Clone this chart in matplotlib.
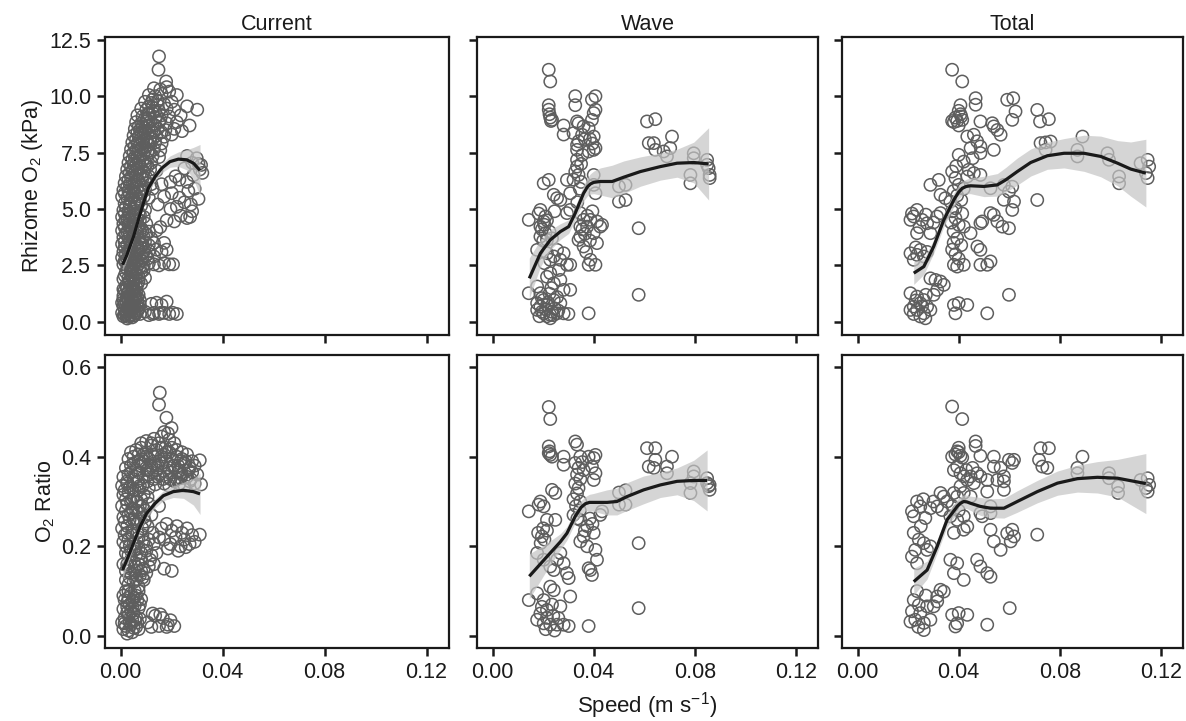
import numpy as np
import matplotlib.pyplot as plt

plt.rcParams['font.family'] = ['Liberation Sans', 'DejaVu Sans']
plt.rcParams['mathtext.fontset'] = 'custom'
plt.rcParams['mathtext.rm'] = 'Liberation Sans'
plt.rcParams['mathtext.it'] = 'Liberation Sans:italic'

# ---- scatter data: (speed m/s, value) ----
cur_o2_pts = [
    (0.001,0.25),(0.002,0.35),(0.003,0.22),(0.004,0.30),(0.005,0.28),(0.006,0.38),
    (0.0015,0.55),(0.0025,0.62),(0.004,0.50),(0.0055,0.65),(0.007,0.58),
    (0.0005,0.85),(0.002,0.95),(0.0035,0.80),(0.005,0.90),(0.0065,0.88),
    (0.001,1.15),(0.0025,1.25),(0.004,1.10),(0.0055,1.20),
    (0.0015,1.40),(0.003,1.35),(0.0045,1.45),(0.002,0.45),(0.0035,0.70),(0.006,1.05),(0.0045,1.30),
    (0.0025,0.15),(0.0045,0.20),(0.0065,0.50),(0.001,0.70),(0.003,1.00),(0.005,0.60),(0.0075,0.95),
    (0.006,1.35),(0.0005,0.40),(0.0035,0.45),(0.0055,0.40),(0.0075,0.35),(0.001,1.45),(0.007,1.20),
    (0.0015,0.30),(0.0035,0.30),(0.0055,0.30),(0.0025,0.45),(0.0045,0.55),(0.0065,0.70),(0.0015,0.80),
    (0.003,0.60),(0.0045,0.95),(0.0025,1.05),(0.0055,1.00),(0.0035,1.20),(0.005,1.40),(0.0065,1.10),
    (0.001,1.00),(0.0075,0.75),
    (0.0095,0.45),(0.011,0.30),(0.012,0.80),(0.013,0.40),(0.014,0.85),(0.015,0.35),(0.016,0.75),
    (0.017,0.40),(0.018,0.90),(0.019,0.35),(0.0205,0.40),(0.022,0.35),(0.0125,0.35),(0.0155,0.40),
    (0.002,1.60),(0.004,1.65),(0.006,1.55),(0.008,1.70),(0.001,1.90),(0.003,1.95),(0.005,1.85),
    (0.007,2.00),(0.002,2.20),(0.004,2.25),(0.006,2.15),(0.009,2.30),(0.0035,2.40),(0.0075,2.45),
    (0.003,1.75),(0.005,1.70),(0.007,1.80),(0.0015,2.05),(0.004,2.10),(0.006,2.35),(0.008,2.20),
    (0.0095,1.95),(0.005,2.45),
    (0.0025,1.50),(0.005,1.50),(0.0065,1.65),(0.0035,1.85),(0.006,1.95),(0.0025,2.35),(0.0045,2.00),(0.0085,2.40),
    (0.001,2.55),(0.003,2.50),(0.005,2.60),(0.007,2.55),(0.009,2.50),(0.011,2.60),(0.013,2.55),
    (0.015,2.50),(0.017,2.60),(0.019,2.55),(0.0205,2.55),
    (0.0005,2.85),(0.0025,2.80),(0.0045,2.90),(0.0065,2.75),(0.0085,2.85),(0.0105,2.80),(0.013,2.90),
    (0.001,3.10),(0.003,3.15),(0.005,3.05),(0.007,3.20),(0.009,3.10),(0.011,3.15),(0.014,3.20),
    (0.016,3.10),(0.018,3.20),
    (0.0005,3.45),(0.0025,3.40),(0.0045,3.50),(0.0065,3.35),(0.0085,3.45),(0.011,3.40),(0.013,3.50),(0.017,3.50),
    (0.001,3.75),(0.003,3.70),(0.005,3.80),(0.007,3.65),(0.009,3.75),(0.012,3.70),
    (0.0005,4.05),(0.0025,4.00),(0.0045,4.10),(0.0065,3.95),(0.0085,4.05),(0.011,4.00),(0.014,4.05),
    (0.001,4.35),(0.003,4.30),(0.005,4.40),(0.007,4.25),(0.010,4.35),
    (0.0005,4.65),(0.0025,4.60),(0.0045,4.70),(0.0065,4.55),(0.009,4.65),
    (0.001,4.95),(0.003,4.90),(0.005,5.00),(0.007,4.85),(0.0095,4.95),
    (0.0015,5.25),(0.0035,5.20),(0.0055,5.30),(0.008,5.15),
    (0.002,2.65),(0.004,2.70),(0.006,2.65),(0.008,2.70),(0.010,2.95),(0.002,3.00),(0.006,3.00),
    (0.008,3.30),(0.004,3.30),(0.0015,3.55),(0.0055,3.60),(0.0095,3.55),(0.002,3.90),(0.006,3.85),
    (0.010,3.90),(0.004,4.20),(0.008,4.15),(0.002,4.50),(0.006,4.45),(0.0035,4.80),(0.0075,4.75),
    (0.002,5.10),(0.006,5.05),(0.004,5.40),(0.0075,5.35),
    (0.0015,2.70),(0.0035,2.95),(0.0055,2.85),(0.0075,3.00),(0.0015,3.30),(0.0055,3.40),(0.0035,3.55),
    (0.0075,3.50),(0.0035,3.90),(0.0075,4.00),(0.0015,4.20),(0.0055,4.25),(0.0035,4.50),(0.0075,4.50),
    (0.0015,4.80),(0.0055,4.80),(0.0035,5.10),(0.0065,5.25),
    (0.0155,4.20),(0.018,4.50),(0.021,4.45),(0.0235,4.70),(0.026,4.60),(0.028,4.90),(0.0195,5.00),
    (0.022,5.10),(0.025,5.30),(0.0275,5.20),(0.0305,5.45),(0.0145,5.20),(0.017,5.55),(0.020,5.70),
    (0.023,5.50),(0.0265,5.80),(0.029,5.90),(0.0125,5.90),(0.016,6.10),(0.0195,6.20),(0.023,6.30),
    (0.026,6.20),(0.0285,6.50),(0.031,6.75),(0.0305,7.00),(0.028,7.05),(0.025,6.80),(0.0215,6.45),
    (0.0272,4.65),(0.0298,7.25),(0.026,7.35),(0.032,6.60),(0.0315,6.95),
    (0.0005,5.55),(0.0025,5.50),(0.0045,5.60),(0.0065,5.45),(0.009,5.55),(0.011,5.50),
    (0.001,5.85),(0.003,5.80),(0.005,5.90),(0.007,5.75),(0.0095,5.85),
    (0.0015,6.15),(0.0035,6.10),(0.0055,6.20),(0.008,6.05),(0.010,6.15),(0.012,6.10),
    (0.002,6.45),(0.004,6.40),(0.006,6.50),(0.0085,6.35),(0.011,6.45),
    (0.0025,6.75),(0.0045,6.70),(0.0065,6.80),(0.009,6.65),(0.0115,6.75),(0.014,6.70),
    (0.003,7.05),(0.005,7.00),(0.007,7.10),(0.0095,6.95),(0.012,7.05),
    (0.0035,7.35),(0.0055,7.30),(0.0075,7.40),(0.010,7.25),(0.0125,7.35),(0.015,7.30),
    (0.004,7.65),(0.006,7.60),(0.008,7.70),(0.0105,7.55),(0.013,7.65),
    (0.0045,7.95),(0.0065,7.90),(0.0085,8.00),(0.011,7.85),(0.0135,7.95),(0.016,7.90),
    (0.005,8.25),(0.007,8.20),(0.009,8.30),(0.0115,8.15),(0.014,8.25),(0.017,8.20),(0.020,8.30),
    (0.0055,8.55),(0.0075,8.50),(0.0095,8.60),(0.012,8.45),(0.0145,8.55),(0.0175,8.50),(0.021,8.55),(0.024,8.45),
    (0.006,8.85),(0.008,8.80),(0.010,8.90),(0.0125,8.75),(0.015,8.85),(0.018,8.80),(0.022,8.85),(0.027,8.70),
    (0.0065,9.15),(0.0085,9.10),(0.011,9.20),(0.0135,9.05),(0.016,9.15),(0.019,9.10),(0.0235,9.15),
    (0.008,9.45),(0.010,9.40),(0.0125,9.50),(0.015,9.35),(0.018,9.45),(0.021,9.40),(0.026,9.55),(0.030,9.40),
    (0.0095,9.75),(0.012,9.70),(0.0145,9.80),(0.017,9.65),(0.020,9.75),
    (0.011,10.05),(0.0135,10.00),(0.016,10.10),(0.019,10.20),(0.022,10.05),
    (0.013,10.35),(0.0155,10.30),(0.018,10.40),
    (0.0015,5.70),(0.006,5.65),(0.0085,5.75),(0.0025,6.00),(0.0065,5.95),(0.003,6.30),(0.007,6.25),
    (0.0095,6.30),(0.0035,6.60),(0.0075,6.55),(0.004,6.90),(0.008,6.85),(0.0105,6.90),(0.0045,7.20),
    (0.0085,7.15),(0.005,7.50),(0.009,7.45),(0.0115,7.50),(0.0055,7.80),(0.0095,7.75),(0.006,8.10),
    (0.010,8.05),(0.0125,8.10),(0.0065,8.40),(0.0105,8.35),(0.0135,8.70),(0.007,8.65),(0.011,8.65),
    (0.0095,9.00),(0.0125,9.25),(0.0145,9.60),(0.011,9.55),(0.0155,8.95),(0.016,8.40),(0.0155,7.60),
    (0.0035,5.65),(0.0055,5.75),(0.0045,6.00),(0.0065,6.30),(0.0055,6.60),(0.0085,6.50),(0.006,6.95),
    (0.0065,7.25),(0.0095,7.10),(0.007,7.55),(0.0095,7.60),(0.0075,7.85),(0.0105,7.95),(0.008,8.35),
    (0.0085,8.65),(0.0095,8.45),(0.0115,8.85),(0.0105,9.20),(0.0135,9.35),(0.0125,9.85),(0.013,8.40),
    (0.0115,8.00),
    (0.0178,10.65),(0.0148,11.17),(0.015,11.76),
]

cur_ratio_pts = [
    (0.001,0.015),(0.002,0.022),(0.003,0.012),(0.004,0.025),(0.005,0.018),(0.006,0.020),(0.007,0.015),
    (0.0015,0.040),(0.003,0.045),(0.0045,0.035),(0.006,0.042),(0.0075,0.038),
    (0.001,0.060),(0.0025,0.065),(0.004,0.055),(0.0055,0.068),(0.007,0.062),
    (0.0015,0.080),(0.003,0.085),(0.0045,0.078),(0.006,0.090),(0.008,0.082),(0.002,0.100),(0.004,0.095),
    (0.0025,0.005),(0.0045,0.008),(0.0065,0.030),(0.0005,0.030),(0.0025,0.052),(0.005,0.050),
    (0.0035,0.070),(0.0075,0.070),(0.001,0.090),(0.0055,0.100),(0.007,0.100),
    (0.0015,0.028),(0.0035,0.030),(0.0055,0.035),(0.0025,0.075),(0.0045,0.065),(0.0065,0.080),
    (0.003,0.100),(0.005,0.085),
    (0.0105,0.030),(0.012,0.020),(0.0135,0.045),(0.015,0.022),(0.0165,0.040),(0.018,0.020),
    (0.0195,0.035),(0.021,0.022),(0.0125,0.050),(0.0155,0.048),(0.0185,0.025),
    (0.003,0.115),(0.005,0.120),(0.007,0.110),(0.009,0.125),(0.004,0.140),(0.006,0.135),(0.008,0.145),(0.010,0.140),
    (0.002,0.125),(0.006,0.125),(0.0085,0.130),(0.002,0.145),
    (0.0035,0.130),(0.0055,0.145),(0.0075,0.135),(0.0025,0.160),(0.006,0.155),(0.003,0.180),(0.005,0.190),
    (0.007,0.195),(0.0035,0.200),(0.0025,0.230),(0.0065,0.230),
    (0.001,0.160),(0.003,0.155),(0.005,0.165),(0.007,0.160),(0.009,0.150),(0.011,0.155),(0.013,0.160),
    (0.017,0.150),(0.020,0.145),
    (0.002,0.185),(0.004,0.190),(0.006,0.180),(0.008,0.185),(0.010,0.190),(0.012,0.180),(0.014,0.185),
    (0.001,0.210),(0.003,0.215),(0.005,0.205),(0.007,0.220),(0.009,0.210),(0.011,0.215),(0.013,0.205),(0.015,0.220),
    (0.004,0.170),(0.008,0.170),(0.0115,0.170),(0.002,0.200),(0.006,0.200),(0.010,0.200),
    (0.0015,0.225),(0.0045,0.225),(0.0085,0.225),(0.0125,0.230),
    (0.016,0.240),(0.018,0.250),(0.020,0.235),(0.022,0.245),(0.024,0.230),(0.026,0.240),(0.028,0.225),
    (0.017,0.215),(0.0195,0.205),(0.0215,0.220),(0.0235,0.200),(0.025,0.215),(0.027,0.205),(0.031,0.226),
    (0.0185,0.195),(0.0225,0.190),(0.0255,0.198),(0.029,0.210),
    (0.0005,0.240),(0.0025,0.245),(0.0045,0.235),(0.0065,0.250),(0.0085,0.240),(0.0105,0.245),
    (0.001,0.265),(0.003,0.270),(0.005,0.260),(0.007,0.275),(0.009,0.265),(0.012,0.270),
    (0.0005,0.290),(0.0025,0.295),(0.0045,0.285),(0.0065,0.300),(0.0085,0.290),(0.011,0.295),(0.015,0.290),
    (0.001,0.315),(0.003,0.320),(0.005,0.310),(0.007,0.325),(0.009,0.315),
    (0.0015,0.255),(0.0055,0.255),(0.0095,0.255),(0.002,0.280),(0.006,0.280),(0.0095,0.280),
    (0.002,0.305),(0.006,0.300),(0.0105,0.310),(0.0015,0.325),(0.0055,0.325),(0.011,0.330),
    (0.0035,0.260),(0.0075,0.260),(0.004,0.275),(0.0075,0.290),(0.004,0.300),(0.008,0.305),(0.0035,0.330),
    (0.0075,0.335),(0.006,0.355),
    (0.0005,0.335),(0.0025,0.340),(0.0045,0.330),(0.0065,0.345),(0.0085,0.335),(0.017,0.340),(0.019,0.335),
    (0.021,0.345),(0.023,0.340),(0.025,0.335),(0.027,0.345),(0.029,0.340),(0.0315,0.338),
    (0.001,0.355),(0.003,0.360),(0.005,0.350),(0.007,0.365),(0.009,0.355),(0.011,0.360),(0.013,0.350),
    (0.015,0.360),(0.018,0.355),(0.020,0.365),(0.022,0.350),(0.024,0.360),(0.026,0.355),(0.028,0.365),(0.030,0.360),
    (0.002,0.375),(0.004,0.380),(0.006,0.370),(0.008,0.385),(0.010,0.375),(0.012,0.380),(0.014,0.370),
    (0.016,0.385),(0.019,0.375),(0.021,0.380),(0.023,0.370),(0.025,0.385),(0.027,0.375),(0.029,0.380),
    (0.003,0.395),(0.005,0.400),(0.007,0.390),(0.009,0.405),(0.011,0.395),(0.013,0.400),(0.015,0.390),
    (0.017,0.405),(0.020,0.395),(0.022,0.400),(0.024,0.395),(0.026,0.405),(0.031,0.392),
    (0.0025,0.345),(0.0105,0.345),(0.0135,0.338),(0.0195,0.350),(0.0235,0.352),(0.0275,0.350),
    (0.004,0.365),(0.012,0.365),(0.017,0.368),(0.0225,0.365),(0.0265,0.370),(0.005,0.385),(0.009,0.390),
    (0.013,0.385),(0.018,0.390),(0.0235,0.390),(0.028,0.390),(0.004,0.410),(0.010,0.400),(0.016,0.400),
    (0.019,0.410),(0.024,0.410),
    (0.0105,0.370),(0.0145,0.380),(0.0205,0.380),(0.0255,0.390),(0.007,0.405),(0.0125,0.405),(0.0175,0.420),
    (0.0225,0.380),(0.0145,0.355),(0.0165,0.350),
    (0.006,0.415),(0.008,0.420),(0.010,0.410),(0.012,0.425),(0.014,0.415),(0.016,0.420),(0.018,0.410),
    (0.020,0.420),(0.022,0.415),(0.008,0.430),(0.012,0.430),(0.015,0.430),(0.021,0.430),
    (0.010,0.435),(0.013,0.440),(0.016,0.445),(0.019,0.438),(0.017,0.455),
    (0.0199,0.464),(0.0179,0.487),(0.015,0.516),(0.0153,0.543),(0.0185,0.452),
]

wave_o2_pts = [
    (0.0222,11.17),(0.0228,10.65),
    (0.0222,9.60),(0.0222,9.40),(0.0225,9.20),(0.0228,9.05),(0.0231,8.90),(0.0235,8.95),
    (0.0281,8.70),(0.0281,8.30),(0.0327,10.00),(0.0327,9.60),
    (0.0407,10.00),(0.0393,9.85),(0.0407,9.40),(0.0400,9.25),
    (0.0334,8.88),(0.0340,8.80),(0.0360,8.66),(0.0380,8.58),(0.0393,8.95),
    (0.0320,8.36),(0.0354,8.29),(0.0400,8.21),(0.0334,7.84),(0.0334,7.62),(0.0380,7.55),(0.0400,7.62),(0.0407,7.70),
    (0.0334,7.18),(0.0334,6.88),(0.0327,6.66),(0.0340,6.51),(0.0320,6.30),
    (0.0400,6.51),(0.0400,6.07),(0.0407,5.70),
    (0.0202,6.14),(0.0222,6.29),(0.0242,5.63),(0.0255,5.48),(0.0268,5.40),
    (0.0294,6.29),(0.0307,5.70),
    (0.0189,4.96),(0.0182,4.80),(0.0209,4.67),(0.0202,4.45),(0.0143,4.52),
    (0.0189,4.22),(0.0209,3.93),(0.0215,3.63),(0.0189,3.78),
    (0.0294,4.82),(0.0307,4.96),
    (0.0347,4.82),(0.0360,4.52),(0.0374,4.22),(0.0387,4.52),(0.0347,4.22),(0.0347,3.78),(0.0360,3.34),(0.0340,3.63),
    (0.0413,4.45),(0.0426,4.22),(0.0433,4.30),(0.0400,3.93),(0.0413,3.49),
    (0.0387,2.75),(0.0380,2.53),(0.0407,2.53),
    (0.0176,3.19),(0.0215,3.04),(0.0228,2.75),(0.0242,2.90),(0.0255,3.19),(0.0268,2.75),(0.0281,3.04),
    (0.0294,2.53),(0.0307,2.53),
    (0.0228,2.16),(0.0215,2.00),(0.0268,1.86),(0.0242,1.71),(0.0281,1.42),(0.0307,1.42),(0.0143,1.27),
    (0.0176,1.57),(0.0189,1.27),(0.0202,0.97),(0.0176,0.83),(0.0215,0.75),(0.0242,0.97),(0.0268,0.83),
    (0.0176,0.53),(0.0202,0.38),(0.0228,0.31),(0.0255,0.38),(0.0281,0.38),(0.0300,0.35),(0.0380,0.38),
    (0.0228,0.16),(0.0189,0.68),
    (0.0578,4.15),(0.0578,1.20),
    (0.0500,6.00),(0.0526,6.07),(0.0500,5.33),(0.0526,5.40),
    (0.0611,8.88),(0.0644,8.98),(0.0618,7.92),(0.0638,7.92),(0.0644,7.62),(0.0710,8.21),
    (0.0677,7.55),(0.0703,7.70),(0.0690,7.33),
    (0.0796,7.47),(0.0796,7.25),(0.0783,6.51),(0.0783,6.14),
    (0.0849,7.18),(0.0849,6.96),(0.0855,6.81),(0.0859,6.51),(0.0859,6.37),
    (0.0345,5.90),(0.0350,6.20),(0.0335,5.30),(0.0355,7.40),(0.0340,8.00),(0.0350,7.00),(0.0365,8.10),
    (0.0385,8.10),(0.0395,7.90),(0.0195,4.10),(0.0205,4.30),(0.0215,4.50),(0.0225,4.00),(0.0200,3.60),
    (0.0235,3.70),(0.0245,4.90),(0.0365,3.90),(0.0375,4.70),(0.0385,3.60),(0.0355,4.10),(0.0370,3.10),
    (0.0395,4.90),(0.0195,0.45),(0.0210,0.55),(0.0220,0.85),(0.0235,0.45),(0.0245,0.60),(0.0260,0.50),
    (0.0215,0.25),(0.0240,0.30),(0.0195,1.05),(0.0225,1.25),(0.0255,1.10),(0.0185,0.25),(0.0232,1.50),
    (0.0262,2.30),(0.0205,2.60),
]

wave_ratio_pts = [
    (0.0222,0.511),(0.0228,0.484),
    (0.0222,0.423),(0.0225,0.412),(0.0228,0.404),(0.0235,0.400),(0.0222,0.408),
    (0.0281,0.400),(0.0281,0.382),(0.0327,0.434),(0.0334,0.427),
    (0.0347,0.400),(0.0380,0.400),(0.0400,0.397),(0.0407,0.404),(0.0393,0.378),(0.0407,0.363),(0.0400,0.348),
    (0.0327,0.386),(0.0340,0.375),(0.0334,0.360),(0.0347,0.350),(0.0327,0.340),(0.0340,0.330),(0.0334,0.318),
    (0.0320,0.305),(0.0347,0.300),(0.0330,0.290),(0.0345,0.280),(0.0320,0.270),(0.0335,0.262),(0.0355,0.388),
    (0.0360,0.370),
    (0.0248,0.319),(0.0235,0.326),(0.0189,0.300),(0.0182,0.293),(0.0143,0.278),(0.0202,0.289),
    (0.0215,0.259),(0.0248,0.259),
    (0.0180,0.230),(0.0195,0.222),(0.0205,0.215),(0.0190,0.207),(0.0215,0.235),(0.0200,0.240),
    (0.0347,0.259),(0.0374,0.245),(0.0400,0.230),(0.0360,0.222),(0.0347,0.211),(0.0374,0.200),(0.0407,0.192),
    (0.0413,0.170),(0.0380,0.151),(0.0393,0.136),(0.0387,0.147),(0.0365,0.235),(0.0385,0.262),(0.0395,0.250),
    (0.0426,0.270),(0.0433,0.278),
    (0.0176,0.185),(0.0202,0.170),(0.0228,0.155),(0.0242,0.147),(0.0281,0.162),(0.0294,0.140),(0.0301,0.129),
    (0.0255,0.170),(0.0268,0.185),
    (0.0143,0.080),(0.0176,0.095),(0.0202,0.080),(0.0242,0.102),(0.0307,0.088),(0.0215,0.058),(0.0268,0.066),
    (0.0228,0.110),
    (0.0176,0.036),(0.0202,0.028),(0.0228,0.025),(0.0255,0.025),(0.0281,0.025),(0.0301,0.022),(0.0380,0.022),
    (0.0189,0.050),(0.0215,0.040),(0.0240,0.045),(0.0260,0.040),(0.0195,0.065),(0.0235,0.070),(0.0210,0.015),
    (0.0245,0.012),
    (0.0578,0.207),(0.0578,0.062),
    (0.0500,0.320),(0.0526,0.325),(0.0500,0.293),(0.0526,0.293),
    (0.0611,0.419),(0.0644,0.419),(0.0644,0.393),(0.0618,0.378),(0.0638,0.375),(0.0710,0.400),(0.0690,0.378),
    (0.0690,0.363),
    (0.0796,0.367),(0.0796,0.356),(0.0783,0.341),(0.0783,0.319),
    (0.0849,0.352),(0.0849,0.341),(0.0855,0.334),(0.0859,0.326),(0.0859,0.337),
]

total_o2_pts = [
    (0.0374,11.17),(0.0414,10.65),(0.0467,9.91),(0.0467,9.62),
    (0.0407,9.60),(0.0400,9.35),(0.0407,9.20),(0.0387,9.05),(0.0394,8.90),(0.0381,8.85),(0.0374,8.90),
    (0.0414,8.95),(0.0400,8.70),(0.0410,9.10),
    (0.0486,8.88),(0.0533,8.80),(0.0539,8.66),(0.0553,8.50),(0.0566,8.29),
    (0.0592,9.84),(0.0616,9.91),(0.0625,9.32),(0.0612,8.95),
    (0.0711,9.39),(0.0722,8.88),(0.0757,8.98),
    (0.0434,8.21),(0.0460,8.29),(0.0473,8.00),(0.0447,7.70),(0.0486,7.77),(0.0486,7.48),(0.0440,6.74),
    (0.0460,6.59),(0.0434,6.44),(0.0400,7.40),(0.0539,7.62),(0.0420,7.10),(0.0455,7.25),
    (0.0724,7.92),(0.0744,7.95),(0.0764,7.99),(0.0744,7.62),
    (0.0890,8.21),(0.0870,7.62),(0.0870,7.33),
    (0.0989,7.47),(0.0995,7.18),(0.1035,6.44),(0.1035,6.14),
    (0.1120,7.03),(0.1148,7.18),(0.1154,6.88),(0.1141,6.59),(0.1148,6.37),
    (0.0288,6.07),(0.0321,6.29),(0.0328,5.63),(0.0347,5.48),(0.0367,5.33),(0.0387,5.03),
    (0.0486,6.51),(0.0526,5.92),(0.0579,6.07),(0.0612,5.99),(0.0599,5.77),(0.0579,5.41),(0.0619,5.33),
    (0.0612,4.96),(0.0526,4.82),(0.0539,4.74),(0.0553,4.45),(0.0573,4.22),(0.0599,4.15),(0.0493,4.45),
    (0.0486,4.37),(0.0711,5.40),
    (0.0209,4.52),(0.0235,4.96),(0.0222,4.67),(0.0255,4.52),(0.0275,4.37),(0.0314,4.67),(0.0328,4.82),
    (0.0288,3.93),(0.0235,3.93),(0.0215,4.80),(0.0245,4.20),(0.0300,4.40),(0.0270,4.75),
    (0.0374,6.66),(0.0387,6.37),(0.0400,6.07),(0.0380,5.80),(0.0394,5.60),(0.0410,5.40),(0.0374,4.90),
    (0.0387,4.60),(0.0400,4.30),(0.0380,4.00),(0.0394,3.70),(0.0410,3.40),(0.0374,3.20),(0.0387,3.00),
    (0.0400,2.80),(0.0414,4.80),(0.0420,5.90),(0.0370,4.40),(0.0380,3.50),(0.0390,6.90),
    (0.0420,4.22),(0.0447,3.93),(0.0474,3.34),(0.0486,3.19),
    (0.0209,3.04),(0.0235,2.97),(0.0222,2.75),(0.0248,3.19),(0.0262,2.90),(0.0230,3.30),(0.0275,3.10),
    (0.0381,2.53),(0.0394,2.45),(0.0420,2.53),(0.0486,2.53),(0.0513,2.53),(0.0526,2.68),
    (0.0288,1.93),(0.0308,1.86),(0.0328,1.79),(0.0341,1.64),(0.0315,1.42),(0.0301,1.20),
    (0.0209,1.27),(0.0235,1.12),(0.0262,0.97),(0.0248,0.83),(0.0222,0.68),(0.0235,0.53),(0.0262,0.38),
    (0.0288,0.53),(0.0275,0.68),(0.0209,0.53),(0.0248,0.24),(0.0268,0.16),(0.0222,0.35),(0.0255,0.70),
    (0.0230,0.95),(0.0270,1.20),
    (0.0381,0.75),(0.0434,0.75),(0.0400,0.83),(0.0387,0.38),(0.0513,0.38),(0.0599,1.20),
]

total_ratio_pts = [
    (0.0374,0.512),(0.0414,0.484),
    (0.0467,0.434),(0.0467,0.424),(0.0400,0.420),(0.0400,0.410),(0.0407,0.402),(0.0387,0.405),(0.0374,0.400),
    (0.0414,0.398),(0.0394,0.412),
    (0.0486,0.402),(0.0539,0.400),(0.0539,0.378),(0.0566,0.375),(0.0579,0.356),
    (0.0599,0.393),(0.0619,0.393),(0.0612,0.386),
    (0.0724,0.419),(0.0757,0.419),(0.0718,0.393),(0.0731,0.378),(0.0751,0.375),
    (0.0890,0.400),(0.0870,0.375),(0.0870,0.363),
    (0.0995,0.363),(0.0995,0.352),(0.1031,0.334),(0.1031,0.319),
    (0.1120,0.348),(0.1148,0.352),(0.1154,0.337),(0.1141,0.330),(0.1148,0.322),
    (0.0394,0.378),(0.0407,0.363),(0.0420,0.356),(0.0434,0.348),(0.0447,0.356),(0.0473,0.363),(0.0486,0.356),
    (0.0460,0.341),(0.0407,0.334),(0.0381,0.319),(0.0394,0.311),(0.0420,0.319),(0.0447,0.311),(0.0381,0.370),
    (0.0430,0.370),(0.0455,0.375),
    (0.0513,0.348),(0.0553,0.348),(0.0579,0.345),(0.0513,0.322),(0.0579,0.326),
    (0.0526,0.289),(0.0526,0.274),(0.0486,0.274),(0.0493,0.267),
    (0.0526,0.237),(0.0539,0.211),(0.0566,0.192),(0.0592,0.229),(0.0612,0.237),(0.0619,0.222),(0.0606,0.211),
    (0.0711,0.226),
    (0.0215,0.278),(0.0235,0.300),(0.0248,0.289),(0.0222,0.267),(0.0268,0.263),(0.0288,0.285),(0.0328,0.319),
    (0.0341,0.311),(0.0354,0.300),(0.0334,0.281),(0.0315,0.289),(0.0300,0.300),(0.0260,0.305),
    (0.0222,0.230),(0.0242,0.215),(0.0262,0.207),(0.0228,0.192),(0.0215,0.177),(0.0235,0.162),(0.0275,0.192),
    (0.0288,0.200),(0.0250,0.245),
    (0.0367,0.267),(0.0394,0.259),(0.0420,0.267),(0.0434,0.244),(0.0381,0.230),(0.0420,0.237),(0.0367,0.170),
    (0.0394,0.162),(0.0381,0.140),(0.0420,0.125),(0.0473,0.170),(0.0486,0.155),(0.0513,0.140),(0.0526,0.132),
    (0.0400,0.280),(0.0375,0.290),
    (0.0328,0.103),(0.0341,0.099),(0.0315,0.088),(0.0301,0.066),(0.0315,0.077),
    (0.0222,0.080),(0.0242,0.069),(0.0275,0.066),(0.0248,0.051),(0.0228,0.036),(0.0262,0.029),(0.0288,0.036),
    (0.0209,0.032),(0.0262,0.013),(0.0240,0.020),(0.0215,0.055),(0.0270,0.090),(0.0235,0.100),
    (0.0374,0.047),(0.0400,0.051),(0.0434,0.047),(0.0394,0.028),(0.0387,0.021),
    (0.0513,0.025),(0.0602,0.062),
]

# ---- smooth fits (x, fitted value, half-width of the grey band) ----
cur_o2_fx = [0.0007, 0.0024, 0.005, 0.0069, 0.0089, 0.0108, 0.0135, 0.0161, 0.0193, 0.0226, 0.0259, 0.0285, 0.0311]
cur_o2_fy = [2.53, 2.97, 3.78, 4.52, 5.26, 5.92, 6.44, 6.81, 7.10, 7.21, 7.18, 7.03, 6.71]
cur_o2_se = [0.25, 0.2, 0.15, 0.15, 0.15, 0.15, 0.18, 0.2, 0.25, 0.32, 0.45, 0.7, 1.15]

cur_ratio_fx = [0.0007, 0.0024, 0.005, 0.0076, 0.0102, 0.0135, 0.0167, 0.0206, 0.0246, 0.0285, 0.0311]
cur_ratio_fy = [0.147, 0.170, 0.207, 0.244, 0.274, 0.296, 0.313, 0.322, 0.325, 0.322, 0.317]
cur_ratio_se = [0.02, 0.014, 0.01, 0.009, 0.009, 0.01, 0.011, 0.013, 0.018, 0.03, 0.046]

wave_o2_fx = [0.0145, 0.0189, 0.0228, 0.0268, 0.0301, 0.0327, 0.0343, 0.036, 0.0375, 0.0387, 0.040, 0.0426,
              0.0473, 0.0519, 0.0585, 0.0664, 0.073, 0.0796, 0.0855]
wave_o2_fy = [1.93, 3.04, 3.63, 4.00, 4.22, 4.82, 5.25, 5.70, 5.98, 6.11, 6.18, 6.22, 6.22, 6.41, 6.66, 6.88,
              7.03, 7.06, 7.00]
wave_o2_se = [0.9, 0.6, 0.45, 0.35, 0.3, 0.3, 0.32, 0.35, 0.4, 0.45, 0.5, 0.6, 0.72, 0.72, 0.65, 0.6, 0.62, 0.9, 1.6]

wave_ratio_fx = [0.0145, 0.0215, 0.0268, 0.0294, 0.0327, 0.0350, 0.0367, 0.0383, 0.040, 0.0453, 0.0492, 0.0532,
                 0.0598, 0.0664, 0.073, 0.0796, 0.0849]
wave_ratio_fy = [0.133, 0.177, 0.210, 0.229, 0.267, 0.287, 0.295, 0.298, 0.298, 0.298, 0.300, 0.311, 0.326,
                 0.337, 0.345, 0.347, 0.347]
wave_ratio_se = [0.05, 0.03, 0.018, 0.015, 0.014, 0.015, 0.016, 0.018, 0.02, 0.028, 0.03, 0.031, 0.031, 0.028,
                 0.03, 0.045, 0.068]

total_o2_fx = [0.0222, 0.0262, 0.0301, 0.0341, 0.0381, 0.0398, 0.0414, 0.043, 0.0447, 0.050, 0.0553, 0.0586,
               0.0632, 0.0685, 0.0751, 0.0817, 0.0896, 0.0962, 0.1029, 0.1081, 0.1141]
total_o2_fy = [2.16, 2.45, 3.34, 4.52, 5.41, 5.72, 5.92, 6.00, 6.03, 6.00, 6.07, 6.29, 6.66, 7.06, 7.36, 7.47,
               7.47, 7.33, 7.03, 6.77, 6.59]
total_o2_se = [0.5, 0.35, 0.3, 0.3, 0.3, 0.3, 0.3, 0.32, 0.35, 0.45, 0.5, 0.55, 0.6, 0.6, 0.6, 0.65, 0.8, 0.9,
               1.0, 1.2, 1.5]

total_ratio_fx = [0.0222, 0.0275, 0.0315, 0.0354, 0.0394, 0.0407, 0.042, 0.0433, 0.0447, 0.0486, 0.0526, 0.0579,
                  0.0632, 0.0711, 0.0791, 0.087, 0.0949, 0.1029, 0.1141]
total_ratio_fy = [0.121, 0.147, 0.200, 0.259, 0.289, 0.296, 0.300, 0.299, 0.296, 0.289, 0.285, 0.285, 0.300,
                  0.322, 0.341, 0.351, 0.354, 0.352, 0.340]
total_ratio_se = [0.03, 0.02, 0.015, 0.015, 0.015, 0.015, 0.015, 0.015, 0.016, 0.02, 0.021, 0.022, 0.024,
                  0.025, 0.027, 0.03, 0.035, 0.042, 0.067]

col_titles = ['Current', 'Wave', 'Total']
row_labels = ['Rhizome O$_2$ (kPa)', 'O$_2$ Ratio']
x_ticks = [0.00, 0.04, 0.08, 0.12]
o2_ticks = [0.0, 2.5, 5.0, 7.5, 10.0, 12.5]
ratio_ticks = [0.0, 0.2, 0.4, 0.6]

panels = [
    [(cur_o2_pts, cur_o2_fx, cur_o2_fy, cur_o2_se),
     (wave_o2_pts, wave_o2_fx, wave_o2_fy, wave_o2_se),
     (total_o2_pts, total_o2_fx, total_o2_fy, total_o2_se)],
    [(cur_ratio_pts, cur_ratio_fx, cur_ratio_fy, cur_ratio_se),
     (wave_ratio_pts, wave_ratio_fx, wave_ratio_fy, wave_ratio_se),
     (total_ratio_pts, total_ratio_fx, total_ratio_fy, total_ratio_se)],
]

W, H = 1186, 721
f, p = plt.subplots(2, 3, figsize=(W / 100, H / 100), dpi=100, sharex=True, sharey='row')

# axes boxes in pixels: left, right, top, bottom
cols_px = [(105, 449), (477, 818), (842, 1183)]
rows_px = [(37, 335), (355, 648)]

dark = '#1a1a1a'
for r in range(2):
    for c in range(3):
        ax = p[r, c]
        l, rr = cols_px[c]
        t, b = rows_px[r]
        ax.set_position([l / W, 1 - b / H, (rr - l) / W, (b - t) / H])

        pts, fx, fy, se = panels[r][c]
        xy = np.array(pts)
        fx = np.array(fx)
        fy = np.array(fy)
        se = np.array(se)
        ax.scatter(xy[:, 0], xy[:, 1], s=78, facecolors='none', edgecolors='#5e5e5e',
                   linewidths=1.1, zorder=2)
        ax.fill_between(fx, fy - se, fy + se, color='#c4c4c4', alpha=0.7, lw=0, zorder=3)
        ax.plot(fx, fy, color=dark, lw=2.3, zorder=4, solid_capstyle='butt')

        for s in ax.spines.values():
            s.set_linewidth(1.6)
            s.set_color(dark)
        ax.tick_params(direction='out', length=6, width=1.8, color=dark,
                       labelsize=15.5, labelcolor=dark, pad=4)
        if r == 0:
            ax.set_title(col_titles[c], fontsize=15.5, color=dark, pad=5)

p[0, 0].set_xlim(-0.0062, 0.1288)
p[0, 0].set_xticks(x_ticks)
p[0, 0].set_xticklabels(['%.2f' % v for v in x_ticks])
p[0, 0].set_ylim(-0.58, 12.62)
p[0, 0].set_yticks(o2_ticks)
p[0, 0].set_yticklabels(['%.1f' % v for v in o2_ticks])
p[1, 0].set_ylim(-0.027, 0.627)
p[1, 0].set_yticks(ratio_ticks)
p[1, 0].set_yticklabels(['%.1f' % v for v in ratio_ticks])

p[0, 0].set_ylabel(row_labels[0], fontsize=15.5, color=dark, labelpad=3)
p[1, 0].set_ylabel(row_labels[1], fontsize=15.5, color=dark, labelpad=3)
p[1, 1].set_xlabel('Speed (m s$^{-1}$)', fontsize=16, color=dark, labelpad=5)

f.savefig('out.png', dpi=100)
